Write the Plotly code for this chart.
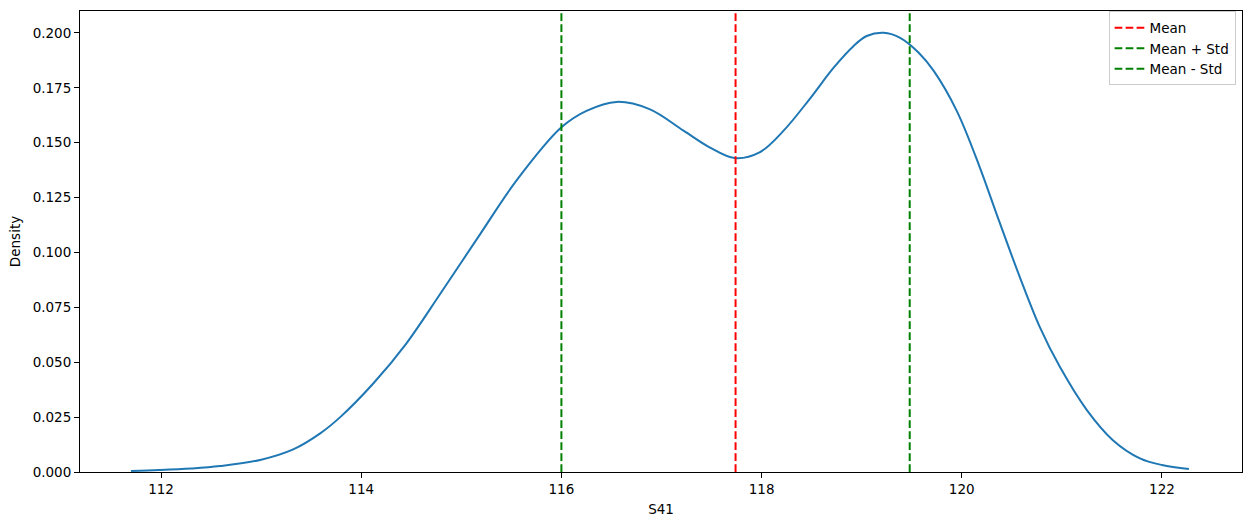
import plotly.graph_objects as go

# KDE curve
kde_x = [111.70, 111.98, 112.30, 112.59, 112.99, 113.32, 113.59, 113.79, 114.12, 114.45,
         114.79, 115.19, 115.55, 116.00, 116.25, 116.55, 116.88, 117.22, 117.48, 117.73,
         117.98, 118.22, 118.48, 118.72, 118.92, 119.05, 119.22, 119.38, 119.57, 119.72,
         119.95, 120.18, 120.36, 120.58, 120.78, 120.98, 121.25, 121.51, 121.78, 122.00,
         122.27]
kde_y = [0.0005, 0.0009, 0.0016, 0.0027, 0.0055, 0.0103, 0.0176, 0.0250, 0.0403, 0.0585,
         0.0812, 0.1085, 0.1327, 0.1570, 0.1645, 0.1686, 0.1653, 0.1555, 0.1479, 0.1430,
         0.1456, 0.1555, 0.1699, 0.1842, 0.1941, 0.1986, 0.2001, 0.1979, 0.1910, 0.1827,
         0.1645, 0.1388, 0.1160, 0.0888, 0.0660, 0.0479, 0.0282, 0.0145, 0.0062, 0.0032,
         0.0014]

mean_val = 117.74
std_val = 1.74

x_range = [111.19, 122.80]
y_range = [0, 0.21]
x_ticks = [112, 114, 116, 118, 120, 122]
y_ticks = [0, 0.025, 0.05, 0.075, 0.1, 0.125, 0.15, 0.175, 0.2]

font = dict(family="DejaVu Sans", size=13.5, color="black")
dash = "7.7px,3.3px"

fig = go.Figure()
fig.add_trace(go.Scatter(x=kde_x, y=kde_y, mode="lines", showlegend=False,
                         line=dict(color="#1f77b4", width=2, shape="spline", smoothing=1.0)))

vlines = [("Mean", mean_val, "red"),
          ("Mean + Std", mean_val + std_val, "green"),
          ("Mean - Std", mean_val - std_val, "green")]
for name, xv, col in vlines:
    fig.add_trace(go.Scatter(x=[xv, xv], y=y_range, mode="lines", name=name,
                             line=dict(color=col, width=2, dash=dash)))

axis_style = dict(showline=True, linecolor="black", linewidth=1, mirror=True,
                  ticks="outside", ticklen=5, tickcolor="black", showgrid=False,
                  zeroline=False, tickfont=font, automargin=False)

fig.update_xaxes(range=x_range, tickvals=x_ticks, title=dict(text="S41", font=font, standoff=8),
                 **axis_style)
fig.update_yaxes(range=y_range, tickvals=y_ticks, tickformat=".3f",
                 title=dict(text="Density", font=font, standoff=8), **axis_style)

fig.update_layout(
    width=1251, height=525,
    margin=dict(l=80, r=9, t=11, b=53),
    plot_bgcolor="white", paper_bgcolor="white",
    font=font,
    legend=dict(x=0.9945, xanchor="right", y=0.999, yanchor="top",
                bgcolor="rgba(255,255,255,0.8)", bordercolor="#cccccc", borderwidth=1,
                font=font, tracegroupgap=0),
)

fig.write_html("out.html", config={"displayModeBar": False},
               post_script="document.body.style.margin='0px';")
